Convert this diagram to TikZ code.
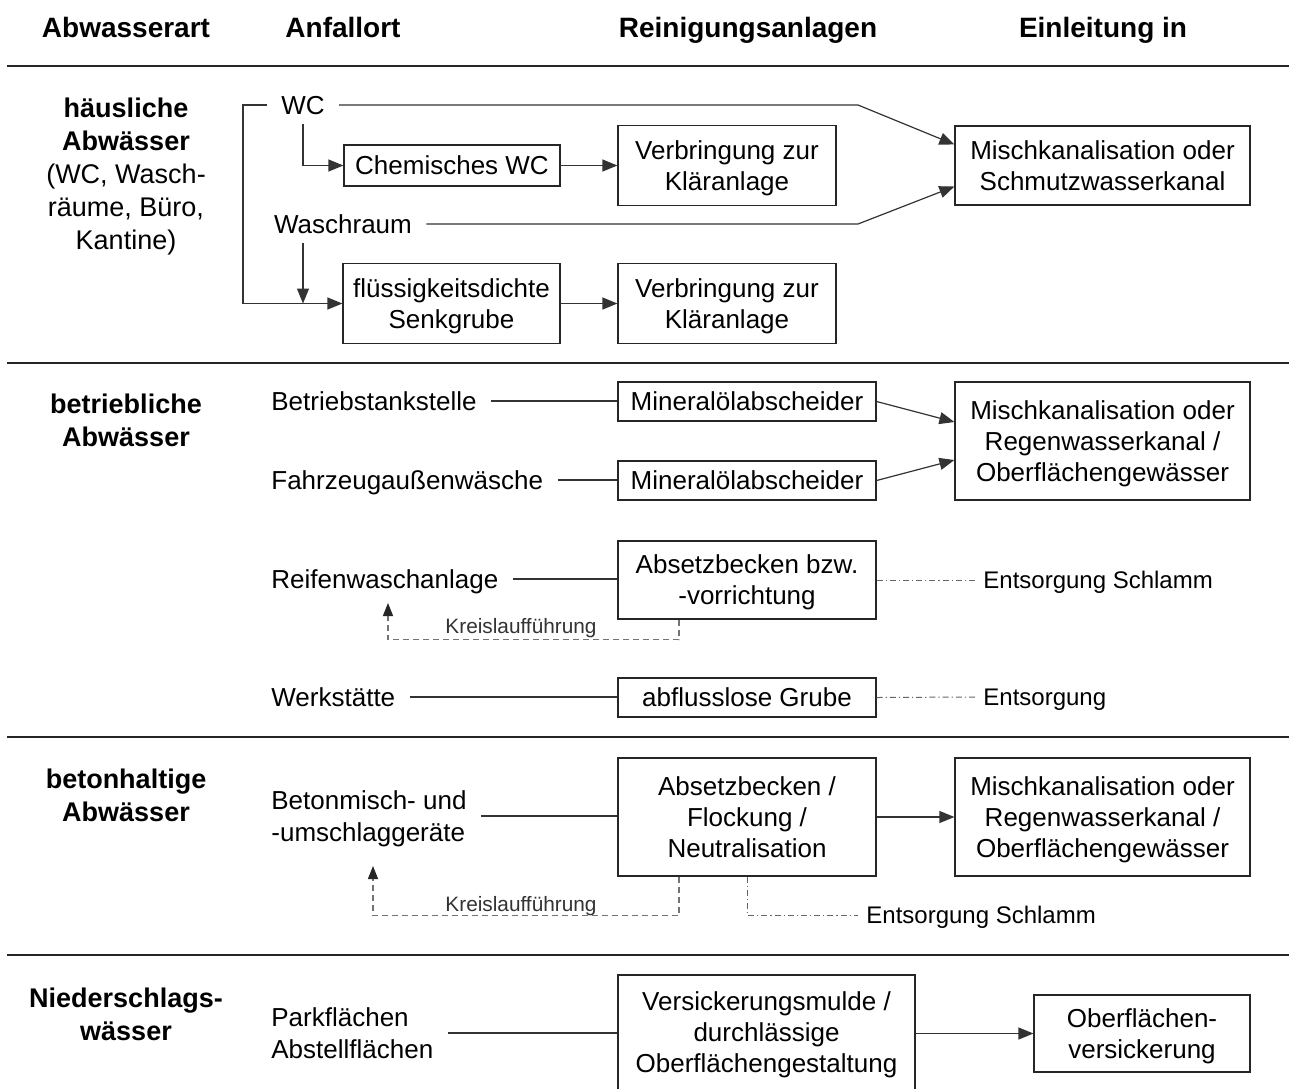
\documentclass[tikz,border=0pt]{standalone}
\usepackage{fontspec}
\setmainfont{Liberation Sans}
\usetikzlibrary{calc,arrows.meta}

\tikzset{
	kasten/.style={draw=black!85, line width=0.6pt, align=center, inner sep=0pt, text depth=0pt, font=\fontsize{13}{15.5}\selectfont},
	ort/.style={anchor=west, inner xsep=7pt, inner ysep=4.5pt, font=\fontsize{13}{16}\selectfont},
	einzeln/.style={text height=9.3pt, text depth=0pt},
	ziel/.style={anchor=west, inner xsep=4pt, text depth=0pt, font=\fontsize{12}{14}\selectfont},
	kopf/.style={text depth=0pt, font=\fontsize{14}{16}\selectfont\bfseries},
	gruppe/.style={align=center, text depth=0pt, font=\fontsize{13.5}{16.5}\selectfont},
	klein/.style={font=\fontsize{10.4}{12}\selectfont, text=black!80, inner sep=1pt},
	linie/.style={draw=black!80, line width=0.6pt},
	pfeil/.style={linie, -{Triangle[length=7.5pt,width=6pt]}},
	kreis/.style={draw=black!55, line width=0.6pt, dash pattern=on 3pt off 2pt, -{Triangle[length=6.5pt,width=5pt,color=black!85]}},
	entsorg/.style={draw=black!60, line width=0.5pt, dash pattern=on 3pt off 1.5pt on 0.6pt off 1.5pt},
	trenn/.style={draw=black!85, line width=1pt},
}

\begin{document}
\begin{tikzpicture}[x=0.5pt, y=-0.5pt]
			%%%%% START %%%%%
			
			\path[fill=white, use as bounding box] (0, 0) rectangle (1289, 1088);
			
			\node[kopf] (k1) at (126, 27) {Abwasserart};
			\node[kopf] (k2) at (343, 27) {Anfallort};
			\node[kopf] (k3) at (748, 27) {Reinigungsanlagen};
			\node[kopf] (k4) at (1103, 27) {Einleitung in};
			
			\draw[trenn] (7, 66) -- (1289, 66);
			\draw[trenn] (7, 363) -- (1289, 363);
			\draw[trenn] (7, 737) -- (1289, 737);
			\draw[trenn] (7, 955) -- (1289, 955);
			
			% haeusliche Abwaesser
			\node[gruppe] (g1) at (126, 174) {\textbf{häusliche}\\\textbf{Abwässer}\\(WC, Wasch-\\räume, Büro,\\Kantine)};
			
			\node[ort, einzeln, anchor=center] (wc) at (303, 105) {WC};
			\node[ort, einzeln, anchor=center] (wr) at (343, 224) {Waschraum};
			\node[kasten, minimum width=108pt, minimum height=20.5pt] (chem) at (452, 165.5) {Chemisches WC};
			\node[kasten, minimum width=108.5pt, minimum height=40pt] (fds) at (451.5, 303.5) {flüssigkeitsdichte\\Senkgrube};
			\node[kasten, minimum width=109pt, minimum height=40pt] (verb1) at (727, 165.5) {Verbringung zur\\Kläranlage};
			\node[kasten, minimum width=109pt, minimum height=40pt] (verb2) at (727, 303.5) {Verbringung zur\\Kläranlage};
			\node[kasten, minimum width=147.5pt, minimum height=39.5pt] (misch1) at (1102.5, 165.5) {Mischkanalisation oder\\Schmutzwasserkanal};
			
			\coordinate (ecke) at (243, 105);
			\coordinate (knick1) at (858, 105);
			\coordinate (knick2) at (858, 224);
			\coordinate (treff) at (303, 303.5);
			
			\draw[pfeil] (wc.east) -- (knick1) -- ($(misch1.west)+(0,-21)$);
			\draw[pfeil] (wr.east) -- (knick2) -- ($(misch1.west)+(0,21)$);
			\draw[pfeil] (wc.west) -- (ecke) |- (fds.west);
			\draw[pfeil] (wc.south) |- (chem.west);
			\draw[pfeil] ($(wr.south)+(-40,0)$) -- (treff);
			\draw[pfeil] (chem) -- (verb1);
			\draw[pfeil] (fds) -- (verb2);
			
			% betriebliche Abwaesser
			\node[gruppe] (g2) at (126, 420.5) {\textbf{betriebliche}\\\textbf{Abwässer}};
			
			\node[ort, einzeln] (bts) at (257, 401) {Betriebstankstelle};
			\node[ort, einzeln] (fzw) at (257, 480) {Fahrzeugaußenwäsche};
			\node[ort, einzeln] (rwa) at (257, 579) {Reifenwaschanlage};
			\node[ort, einzeln] (wst) at (257, 697) {Werkstätte};
			
			\node[kasten, minimum width=129pt, minimum height=19.5pt] (mo1) at (747, 401.5) {Mineralölabscheider};
			\node[kasten, minimum width=129pt, minimum height=19.5pt] (mo2) at (747, 480.5) {Mineralölabscheider};
			\node[kasten, minimum width=129pt, minimum height=39pt] (abs1) at (747, 580) {Absetzbecken bzw.\\-vorrichtung};
			\node[kasten, minimum width=129pt, minimum height=19.5pt] (agr) at (747, 697.5) {abflusslose Grube};
			\node[kasten, minimum width=147.5pt, minimum height=59pt] (misch2) at (1102.5, 441) {Mischkanalisation oder\\Regenwasserkanal /\\Oberflächengewässer};
			
			\node[ziel] (ents1) at (975, 580) {Entsorgung Schlamm};
			\node[ziel] (ents2) at (975, 697) {Entsorgung};
			
			\coordinate (rueck1) at (388, 603);
			
			\draw[linie] (bts.east) -- (bts.east -| mo1.west);
			\draw[linie] (fzw.east) -- (fzw.east -| mo2.west);
			\draw[linie] (rwa.east) -- (rwa.east -| abs1.west);
			\draw[linie] (wst.east) -- (wst.east -| agr.west);
			\draw[pfeil] (mo1.east) -- ($(misch2.west)+(0,-19)$);
			\draw[pfeil] (mo2.east) -- ($(misch2.west)+(0,19)$);
			\draw[entsorg] (abs1.east) -- (ents1.west);
			\draw[entsorg] (agr.east) -- (ents2.west);
			\draw[kreis] ($(abs1.south)+(-68,0)$) -- ++(0,20) -| (rueck1);
			\node[klein] (kl1) at (521, 628) {Kreislaufführung};
			
			% betonhaltige Abwaesser
			\node[gruppe] (g3) at (126, 795.5) {\textbf{betonhaltige}\\\textbf{Abwässer}};
			
			\node[ort, align=left, text depth=0pt] (bmu) at (257, 816) {Betonmisch- und\\-umschlaggeräte};
			\node[kasten, minimum width=129pt, minimum height=59pt] (afn) at (747, 817) {Absetzbecken /\\Flockung /\\Neutralisation};
			\node[kasten, minimum width=147.5pt, minimum height=59pt] (misch3) at (1102.5, 817) {Mischkanalisation oder\\Regenwasserkanal /\\Oberflächengewässer};
			\node[ziel] (ents3) at (858, 915) {Entsorgung Schlamm};
			
			\coordinate (rueck2) at (373, 866);
			
			\draw[linie] (bmu.east) -- (bmu.east -| afn.west);
			\draw[pfeil] (afn) -- (misch3);
			\draw[kreis] ($(afn.south)+(-68,0)$) -- ++(0,39) -| (rueck2);
			\draw[entsorg] (afn.south) |- (ents3.west);
			\node[klein] (kl2) at (521, 906) {Kreislaufführung};
			
			% Niederschlagswaesser
			\node[gruppe] (g4) at (126, 1014.5) {\textbf{Niederschlags-}\\\textbf{wässer}};
			
			\node[ort, align=left, text depth=0pt] (pfa) at (257, 1033) {Parkflächen\\Abstellflächen};
			\node[kasten, minimum width=148.5pt, minimum height=57.5pt] (vsm) at (766.5, 1032.5) {Versickerungsmulde /\\durchlässige\\Oberflächengestaltung};
			\node[kasten, minimum width=108pt, minimum height=38.5pt] (ofv) at (1142, 1033.5) {Oberflächen-\\versickerung};
			
			\draw[linie] (pfa.east) -- (pfa.east -| vsm.west);
			\draw[pfeil] (vsm.east |- ofv.west) -- (ofv.west);
			
			%%%%% END %%%%%
\end{tikzpicture}
\end{document}
